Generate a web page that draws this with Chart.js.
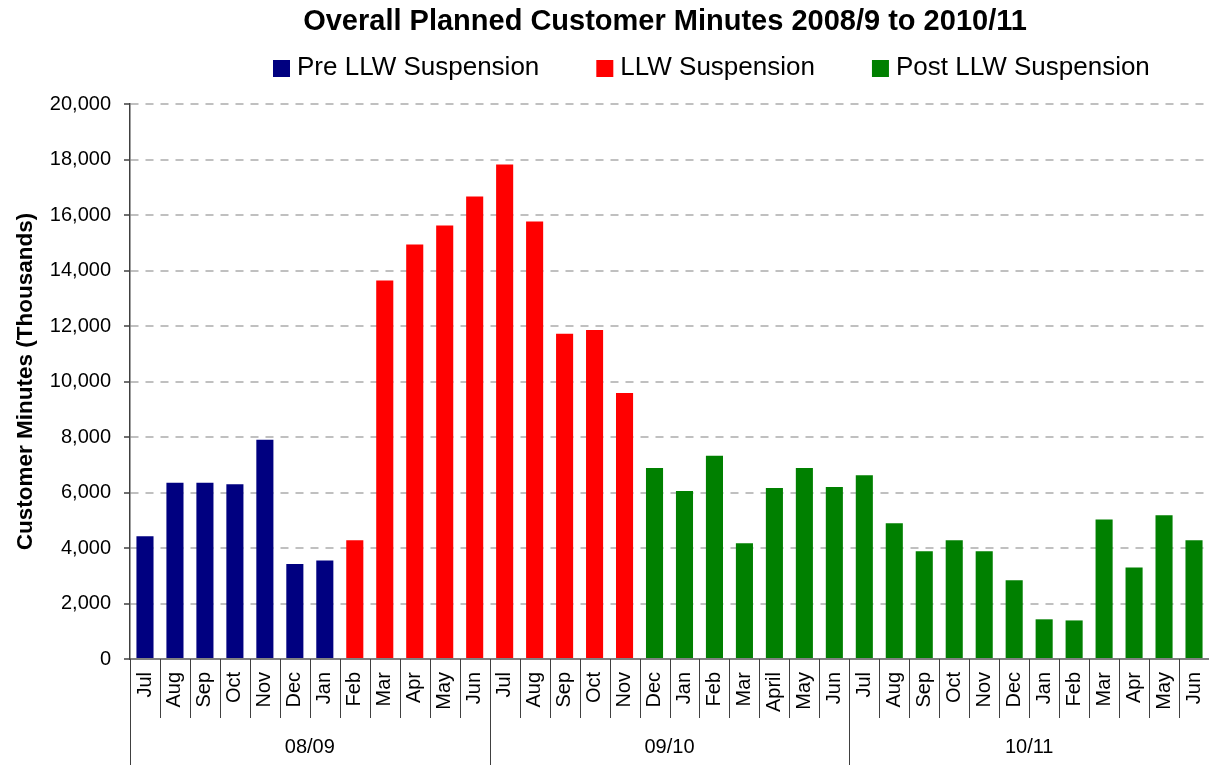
<!DOCTYPE html>
<html>
<head>
<meta charset="utf-8">
<script src="https://cdn.jsdelivr.net/npm/chart.js@4/dist/chart.umd.min.js"></script>
<style>
  html, body { margin: 0; padding: 0; background: #fff; }
  #wrap { width: 1209px; height: 765px; position: relative; }
</style>
</head>
<body>
<div id="wrap"><canvas id="c" width="1209" height="765"></canvas></div>
<script>
const chartTitle = "Overall Planned Customer Minutes 2008/9 to 2010/11";
const yAxisTitle = "Customer Minutes (Thousands)";
const months = ["Jul","Aug","Sep","Oct","Nov","Dec","Jan","Feb","Mar","Apr","May","Jun",
                "Jul","Aug","Sep","Oct","Nov","Dec","Jan","Feb","Mar","April","May","Jun",
                "Jul","Aug","Sep","Oct","Nov","Dec","Jan","Feb","Mar","Apr","May","Jun"];
const years = ["08/09", "09/10", "10/11"];
const monthsPerYear = 12;
const seriesNames = ["Pre LLW Suspension", "LLW Suspension", "Post LLW Suspension"];
const seriesColors = ["#000080", "#FF0000", "#008000"];
const preLLW = [4420, 6350, 6350, 6300, 7900, 3420, 3550,
  null, null, null, null, null, null, null, null, null, null, null, null, null, null, null, null, null, null, null, null, null, null, null, null, null, null, null, null, null];
const llw = [null, null, null, null, null, null, null,
  4280, 13640, 14940, 15620, 16670, 17820, 15770, 11720, 11860, 9590,
  null, null, null, null, null, null, null, null, null, null, null, null, null, null, null, null, null, null, null];
const postLLW = [null, null, null, null, null, null, null, null, null, null, null, null, null, null, null, null, null,
  6880, 6050, 7320, 4170, 6160, 6880, 6200,
  6620, 4890, 3880, 4280, 3880, 2840, 1430, 1390, 5030, 3300, 5180, 4280];
const yMin = 0, yMax = 20000, yStep = 2000;

const FONT = "'Liberation Sans', Arial, sans-serif";

const decorPlugin = {
  id: 'decor',
  afterDraw(chart) {
    const ctx = chart.ctx;
    const xs = chart.scales.x;
    const area = chart.chartArea;
    const n = months.length;
    const half = (xs.getPixelForValue(1) - xs.getPixelForValue(0)) / 2;
    ctx.save();
    // category separators
    ctx.strokeStyle = '#404040';
    ctx.lineWidth = 1;
    for (let i = 0; i <= n; i++) {
      const x = Math.round((i < n ? xs.getPixelForValue(i) - half : xs.getPixelForValue(n - 1) + half)) + 0.5;
      const isGroup = i % monthsPerYear === 0;
      ctx.beginPath();
      ctx.moveTo(x, area.bottom);
      ctx.lineTo(x, isGroup ? chart.height : area.bottom + 59);
      ctx.stroke();
    }
    // year labels
    ctx.fillStyle = '#000';
    ctx.font = "20px " + FONT;
    ctx.textAlign = 'center';
    ctx.textBaseline = 'middle';
    years.forEach((y, k) => {
      const a = xs.getPixelForValue(k * monthsPerYear) - half;
      const b = xs.getPixelForValue(k * monthsPerYear + monthsPerYear - 1) + half;
      ctx.fillText(y, (a + b) / 2, 747);
    });
    // title
    ctx.font = "bold 29px " + FONT;
    ctx.fillText(chartTitle, 665, 22);
    // legend
    ctx.font = "26px " + FONT;
    ctx.textAlign = 'left';
    let lx = 273;
    chart.data.datasets.forEach(ds => {
      ctx.fillStyle = ds.backgroundColor;
      ctx.fillRect(lx, 60, 17, 17);
      ctx.fillStyle = '#000';
      ctx.fillText(ds.label, lx + 24, 68);
      lx += 24 + ctx.measureText(ds.label).width + 57;
    });
    ctx.restore();
  }
};

const datasets = [preLLW, llw, postLLW].map((d, i) => ({
  label: seriesNames[i],
  data: d,
  backgroundColor: seriesColors[i],
  borderWidth: 0,
  grouped: false,
  barPercentage: 0.57,
  categoryPercentage: 1.0
}));

new Chart(document.getElementById('c'), {
  type: 'bar',
  data: { labels: months, datasets },
  options: {
    responsive: false,
    animation: false,
    devicePixelRatio: 1,
    layout: { padding: { top: 104, right: 0, left: 0, bottom: 0 } },
    plugins: {
      legend: { display: false },
      title: { display: false },
      tooltip: { enabled: false }
    },
    scales: {
      x: {
        type: 'category',
        offset: true,
        grid: { display: false, drawTicks: false, drawOnChartArea: false },
        border: { display: true, color: '#808080', width: 2 },
        ticks: {
          color: '#000',
          font: { family: FONT, size: 20 },
          minRotation: 90,
          maxRotation: 90,
          autoSkip: false,
          padding: 13
        },
        afterFit(scale) {
          scale.height = 106;
          scale.paddingLeft = 0;
          scale.paddingRight = 0;
        }
      },
      y: {
        min: yMin,
        max: yMax,
        ticks: {
          stepSize: yStep,
          color: '#000',
          font: { family: FONT, size: 20 },
          padding: 13
        },
        grid: {
          color: '#c0c0c0',
          lineWidth: 2,
          drawTicks: true,
          tickLength: 6,
          tickColor: '#404040',
          tickWidth: 1.5,
          tickBorderDash: []
        },
        border: { display: true, color: '#404040', width: 1.5, dash: [8, 7] },
        title: {
          display: true,
          text: yAxisTitle,
          color: '#000',
          font: { family: FONT, size: 22.5, weight: 'bold' },
          padding: { top: 12, bottom: 0 }
        },
        afterFit(scale) {
          scale.width = 130;
          scale.paddingTop = 0;
          scale.paddingBottom = 0;
        }
      }
    }
  },
  plugins: [decorPlugin]
});
</script>
</body>
</html>
